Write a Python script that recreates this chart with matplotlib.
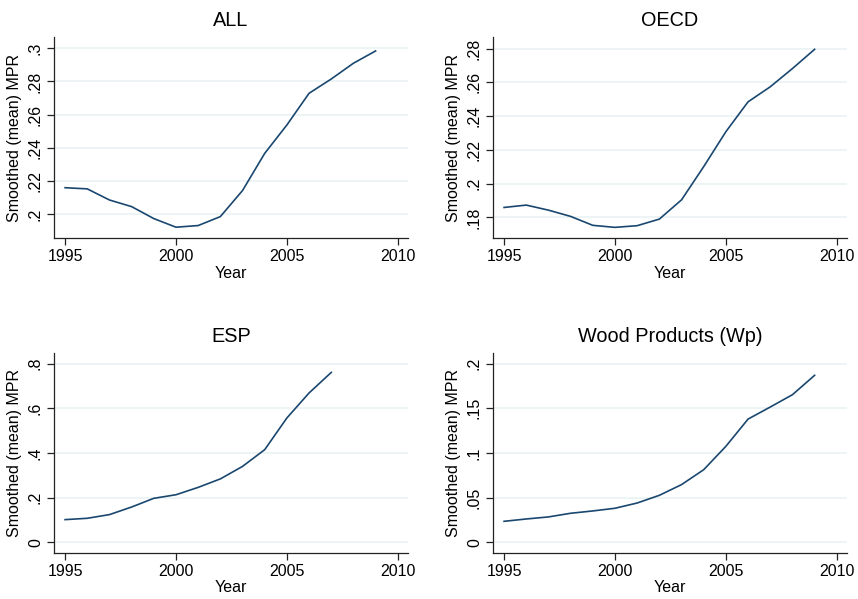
import matplotlib
matplotlib.use("Agg")
import matplotlib.pyplot as plt
from matplotlib.ticker import FuncFormatter

plt.rcParams["font.family"] = ["Liberation Sans", "DejaVu Sans"]

years = list(range(1995, 2010))
years_esp = list(range(1995, 2008))

mpr_all = [0.2160, 0.2153, 0.2086, 0.2046, 0.1974, 0.1922, 0.1932, 0.1986,
           0.2143, 0.2367, 0.2538, 0.2729, 0.2815, 0.2910, 0.2984]
mpr_oecd = [0.1859, 0.1873, 0.1843, 0.1806, 0.1753, 0.1741, 0.1751, 0.1790,
            0.1904, 0.2101, 0.2308, 0.2485, 0.2574, 0.2682, 0.2796]
mpr_esp = [0.1015, 0.1075, 0.124, 0.158, 0.197, 0.213, 0.246, 0.284,
           0.340, 0.415, 0.557, 0.669, 0.761]
mpr_wp = [0.0235, 0.0261, 0.0284, 0.0325, 0.0351, 0.0381, 0.0440, 0.0526,
          0.0646, 0.0813, 0.1075, 0.1380, 0.1515, 0.1653, 0.1870]

panels = [
    ("ALL", years, mpr_all, [0.2, 0.22, 0.24, 0.26, 0.28, 0.3], (0.1857, 0.3068)),
    ("OECD", years, mpr_oecd, [0.18, 0.2, 0.22, 0.24, 0.26, 0.28], (0.1678, 0.2869)),
    ("ESP", years_esp, mpr_esp, [0, 0.2, 0.4, 0.6, 0.8], (-0.048, 0.848)),
    ("Wood Products (Wp)", years, mpr_wp, [0, 0.05, 0.1, 0.15, 0.2], (-0.012, 0.212)),
]

# axes boxes in pixels: left, top, right, bottom
boxes = [(54, 37, 408, 238), (493, 37, 847, 238),
         (54, 353, 408, 553), (493, 353, 847, 553)]

W, H = 858, 599
line_color = "#1a476f"
grid_color = "#eaf2f3"


def stata_fmt(v, pos):
    if abs(v) < 1e-12:
        return "0"
    s = ("%.3f" % v).rstrip("0").rstrip(".")
    return s.replace("0.", ".", 1) if s.startswith("0.") else s


fig = plt.figure(figsize=(W / 100, H / 100), dpi=100)
fig.patch.set_facecolor("white")

for (title, x, y, yticks, ylim), (l, t, r, b) in zip(panels, boxes):
    ax = fig.add_axes([l / W, 1 - b / H, (r - l) / W, (b - t) / H])
    ax.plot(x, y, color=line_color, lw=1.2)
    ax.set_xlim(1994.5, 2010.46)
    ax.set_ylim(*ylim)
    ax.set_xticks([1995, 2000, 2005, 2010])
    ax.set_yticks(yticks)
    ax.yaxis.set_major_formatter(FuncFormatter(stata_fmt))
    for lab in ax.get_yticklabels():
        lab.set_rotation(90)
        lab.set_va("center")
    ax.grid(axis="y", color=grid_color, lw=1.2)
    ax.set_axisbelow(True)
    for side in ("top", "right"):
        ax.spines[side].set_visible(False)
    for side in ("left", "bottom"):
        ax.spines[side].set_color("#222222")
        ax.spines[side].set_linewidth(0.9)
    ax.tick_params(direction="out", length=5, width=0.9, color="#222222",
                   labelsize=11.5, pad=3)
    ax.set_xlabel("Year", fontsize=11.5, labelpad=1)
    ax.set_ylabel("Smoothed (mean) MPR", fontsize=11.5, labelpad=4)
    ax.set_title(title, fontsize=14.3, pad=8)

fig.savefig("out.png", dpi=100)
